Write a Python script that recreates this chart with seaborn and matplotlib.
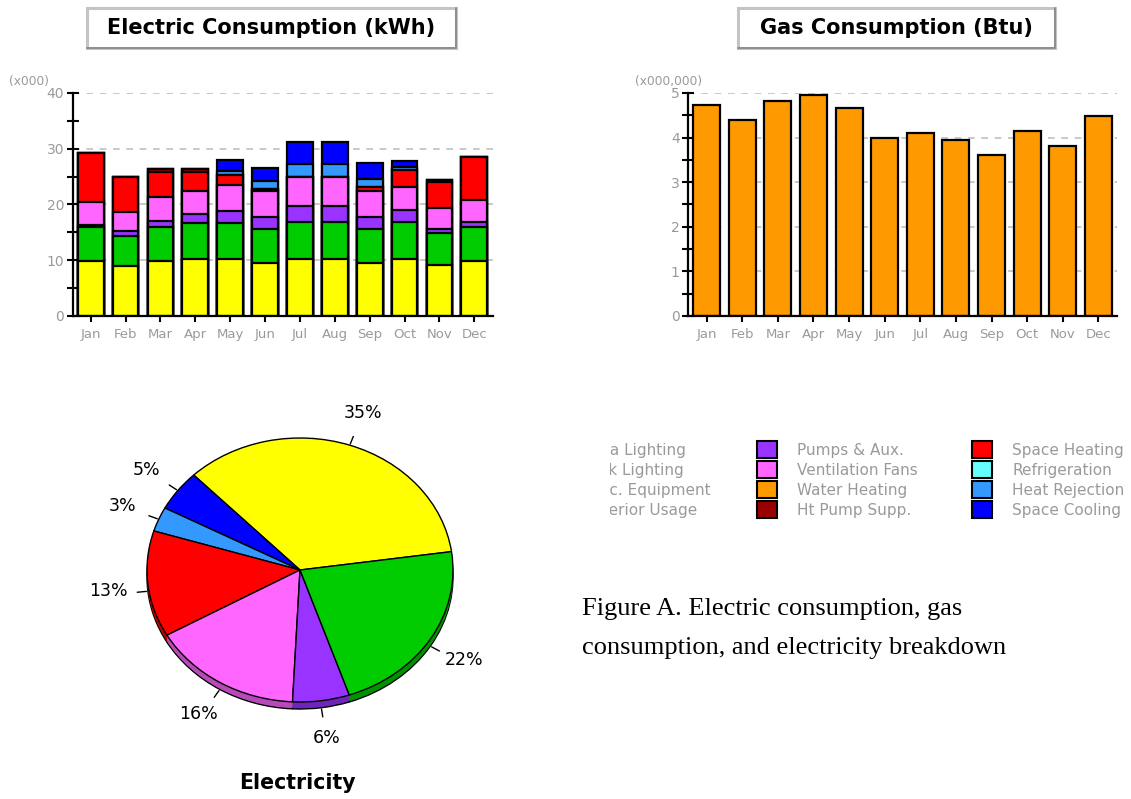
import numpy as np
import pandas as pd
import matplotlib
matplotlib.use("Agg")
import matplotlib.pyplot as plt
from matplotlib.patches import Rectangle
from matplotlib.lines import Line2D
import seaborn as sns

# ---------------- data ----------------
months = ["Jan", "Feb", "Mar", "Apr", "May", "Jun",
          "Jul", "Aug", "Sep", "Oct", "Nov", "Dec"]

# electric end uses, thousands of kWh (stacked bottom -> top)
area_lighting = [9.9, 9.0, 9.9, 10.2, 10.2, 9.5, 10.2, 10.2, 9.5, 10.2, 9.1, 9.9]
misc_equipment = [6.0, 5.4, 6.0, 6.5, 6.5, 6.1, 6.6, 6.6, 6.1, 6.6, 5.8, 6.0]
pumps_aux = [0.5, 0.8, 1.1, 1.6, 2.2, 2.2, 3.0, 3.0, 2.2, 2.2, 0.7, 0.9]
ventilation_fans = [4.1, 3.4, 4.4, 4.2, 4.6, 4.7, 5.2, 5.2, 4.7, 4.2, 3.7, 4.0]
space_heating = [8.8, 6.3, 4.4, 3.3, 1.8, 0.3, 0.0, 0.0, 0.6, 3.0, 4.7, 7.7]
ht_pump_supp = [0.0, 0.0, 0.6, 0.6, 0.0, 0.0, 0.0, 0.0, 0.0, 0.0, 0.4, 0.0]
heat_rejection = [0.0, 0.0, 0.0, 0.0, 0.7, 1.5, 2.3, 2.3, 1.5, 0.6, 0.0, 0.0]
space_cooling = [0.0, 0.0, 0.0, 0.0, 1.9, 2.3, 4.0, 4.0, 2.8, 1.0, 0.0, 0.0]

# gas water heating, millions of Btu
water_heating_gas = [4.72, 4.39, 4.81, 4.96, 4.66, 4.00, 4.10, 3.95, 3.62, 4.15, 3.82, 4.48]

# annual electricity breakdown, percent
pie_uses = ["Area Lighting", "Space Cooling", "Heat Rejection", "Space Heating",
            "Ventilation Fans", "Pumps & Aux.", "Misc. Equipment"]
pie_shares = [35, 5, 3, 13, 16, 6, 22]

legend_col1 = ["Area Lighting", "Task Lighting", "Misc. Equipment", "Exterior Usage"]
legend_col2 = ["Pumps & Aux.", "Ventilation Fans", "Water Heating", "Ht Pump Supp."]
legend_col3 = ["Space Heating", "Refrigeration", "Heat Rejection", "Space Cooling"]

COLORS = {
    "Area Lighting": "#FFFF00",
    "Task Lighting": "#FFFF99",
    "Misc. Equipment": "#00CC00",
    "Exterior Usage": "#996633",
    "Pumps & Aux.": "#9933FF",
    "Ventilation Fans": "#FF66FF",
    "Water Heating": "#FF9900",
    "Ht Pump Supp.": "#990000",
    "Space Heating": "#FF0000",
    "Refrigeration": "#66FFFF",
    "Heat Rejection": "#3399FF",
    "Space Cooling": "#0000FF",
}

# ---------------- style ----------------
sns.set_style("white")
plt.rcParams["font.family"] = ["DejaVu Sans"]
GREY_TXT = "#9A9A9A"

W, H = 1131, 799
fig = plt.figure(figsize=(W / 100, H / 100), dpi=100)


def fx(px):
    return px / W


def fy(py):
    return 1 - py / H


def title_box(x0, y0, x1, y1, text):
    fig.patches.append(Rectangle((fx(x0), fy(y1)), fx(x1) - fx(x0), fy(y0) - fy(y1),
                                 transform=fig.transFigure, facecolor="white",
                                 edgecolor="#C4C4C4", linewidth=2.2))
    fig.lines.append(Line2D([fx(x1), fx(x1), fx(x0)], [fy(y0), fy(y1), fy(y1)],
                            transform=fig.transFigure, color="#8E8E8E", linewidth=1.4))
    fig.text(fx((x0 + x1) / 2), fy((y0 + y1) / 2), text, ha="center", va="center",
             fontsize=15, fontweight="bold", color="black")


def style_bar_axes(ax, ymax, major, minor, scale_label, label_dx):
    ax.set_xlim(-0.52, 11.52)
    ax.set_ylim(0, ymax)
    ax.set_yticks(np.arange(0, ymax + 0.001, major))
    ax.set_yticks(np.arange(minor, ymax, major), minor=True)
    ax.yaxis.grid(True, which="major", color="#C0C0C0", linestyle=(0, (4, 4)), linewidth=1.2)
    ax.xaxis.grid(False)
    ax.set_axisbelow(True)
    for s in ("top", "right"):
        ax.spines[s].set_visible(False)
    for s in ("left", "bottom"):
        ax.spines[s].set_color("black")
        ax.spines[s].set_linewidth(1.6)
    ax.tick_params(axis="y", which="both", direction="inout", length=8, width=1.5,
                   color="black", labelcolor=GREY_TXT, labelsize=10, left=True, pad=2)
    ax.tick_params(axis="x", direction="out", length=4, width=1.5, color="black",
                   labelcolor=GREY_TXT, labelsize=9.5, bottom=True, pad=5)
    ax.set_xlabel("")
    ax.set_ylabel("")
    ax.annotate(scale_label, xy=(0, 1), xycoords="axes fraction",
                xytext=(label_dx, 12), textcoords="offset pixels",
                ha="left", va="center", fontsize=8.8, color=GREY_TXT)


# ---------------- electric stacked bars ----------------
ax_e = fig.add_axes([fx(72.5), fy(316), fx(420), fy(93) - fy(316)])
layers = [
    ("Area Lighting", area_lighting),
    ("Misc. Equipment", misc_equipment),
    ("Pumps & Aux.", pumps_aux),
    ("Ventilation Fans", ventilation_fans),
    ("Space Heating", space_heating),
    ("Ht Pump Supp.", ht_pump_supp),
    ("Heat Rejection", heat_rejection),
    ("Space Cooling", space_cooling),
]
cum = np.cumsum([np.array(v) for _, v in layers], axis=0)
# draw cumulative totals from the top layer down so each lower layer covers the rest
for i in range(len(layers) - 1, -1, -1):
    name = layers[i][0]
    df = pd.DataFrame({"month": months, "kwh": cum[i]})
    sns.barplot(data=df, x="month", y="kwh", order=months, color=COLORS[name],
                saturation=1, edgecolor="black", linewidth=1.6, width=0.74,
                errorbar=None, ax=ax_e)
style_bar_axes(ax_e, 40, 10, 5, "(x000)", -63)

# ---------------- gas bars ----------------
ax_g = fig.add_axes([fx(688), fy(316), fx(429), fy(93) - fy(316)])
gdf = pd.DataFrame({"month": months, "btu": water_heating_gas})
sns.barplot(data=gdf, x="month", y="btu", order=months, color=COLORS["Water Heating"],
            saturation=1, edgecolor="black", linewidth=1.6, width=0.76,
            errorbar=None, ax=ax_g)
style_bar_axes(ax_g, 5, 1, 0.5, "(x000,000)", -53)

title_box(87, 8, 456, 48, "Electric Consumption (kWh)")
title_box(738, 8, 1055, 48, "Gas Consumption (Btu)")

# ---------------- electricity pie (tilted, with depth) ----------------
cx, cy, rx, ry = 300, 570, 153, 132
ax_p = fig.add_axes([fx(cx - 200), fy(cy + 170), fx(400), fy(cy - 170) - fy(cy + 170)])
pie_cols = [COLORS[u] for u in pie_uses]
dark_cols = [tuple(0.72 * np.array(matplotlib.colors.to_rgb(c))) for c in pie_cols]
depth = 7 / ry
start = 8
ax_p.pie(pie_shares, colors=dark_cols, startangle=start, counterclock=True,
         center=(0, -depth), wedgeprops=dict(edgecolor="black", linewidth=1.0))
for k in np.linspace(depth * 0.85, 0.01, 7):
    ax_p.pie(pie_shares, colors=dark_cols, startangle=start, counterclock=True,
             center=(0, -k), wedgeprops=dict(linewidth=0))
wedges, _ = ax_p.pie(pie_shares, colors=pie_cols, startangle=start, counterclock=True,
                     wedgeprops=dict(edgecolor="black", linewidth=1.0))
for w, share in zip(wedges, pie_shares):
    t = np.deg2rad((w.theta1 + w.theta2) / 2)
    c, s = np.cos(t), np.sin(t)
    shift = depth if s < 0 else 0
    ax_p.plot([1.01 * c, 1.07 * c], [1.01 * s - shift, 1.07 * s - shift],
              color="black", linewidth=1.0, clip_on=False)
    r = 1.26
    ax_p.text(r * c, r * s - 0.4 * shift, f"{share}%", ha="center", va="center",
              fontsize=12.5, color="black", clip_on=False)
ax_p.set_aspect("auto")
ax_p.set_xlim(-200 / rx, 200 / rx)
ax_p.set_ylim(-170 / ry, 170 / ry)
ax_p.axis("off")
fig.text(fx(297), fy(783), "Electricity", ha="center", va="center",
         fontsize=14.8, fontweight="bold", color="black")

# ---------------- legend block (left column runs off the panel edge) ----------------
ax_l = fig.add_axes([fx(610), fy(524), fx(1131 - 610), fy(438) - fy(524)])
ax_l.set_xlim(610, 1131)
ax_l.set_ylim(524, 438)
ax_l.axis("off")
col_x = [544, 757, 972]
for ci, col in enumerate([legend_col1, legend_col2, legend_col3]):
    for ri, name in enumerate(col):
        yc = 449 + 20 * ri
        sw = Rectangle((col_x[ci], yc - 8.5), 20, 17, facecolor=COLORS[name],
                       edgecolor="black", linewidth=1.5, clip_on=True)
        ax_l.add_patch(sw)
        ax_l.text(col_x[ci] + 40, yc + 1.5, name, ha="left", va="center",
                  fontsize=11, color=GREY_TXT, clip_on=True)

# ---------------- caption ----------------
fig.text(fx(582), fy(609), "Figure A. Electric consumption, gas", ha="left", va="center",
         fontsize=19, family=["Liberation Serif"], color="black")
fig.text(fx(582), fy(648), "consumption, and electricity breakdown", ha="left", va="center",
         fontsize=19, family=["Liberation Serif"], color="black")

fig.savefig("out.png", dpi=100)
